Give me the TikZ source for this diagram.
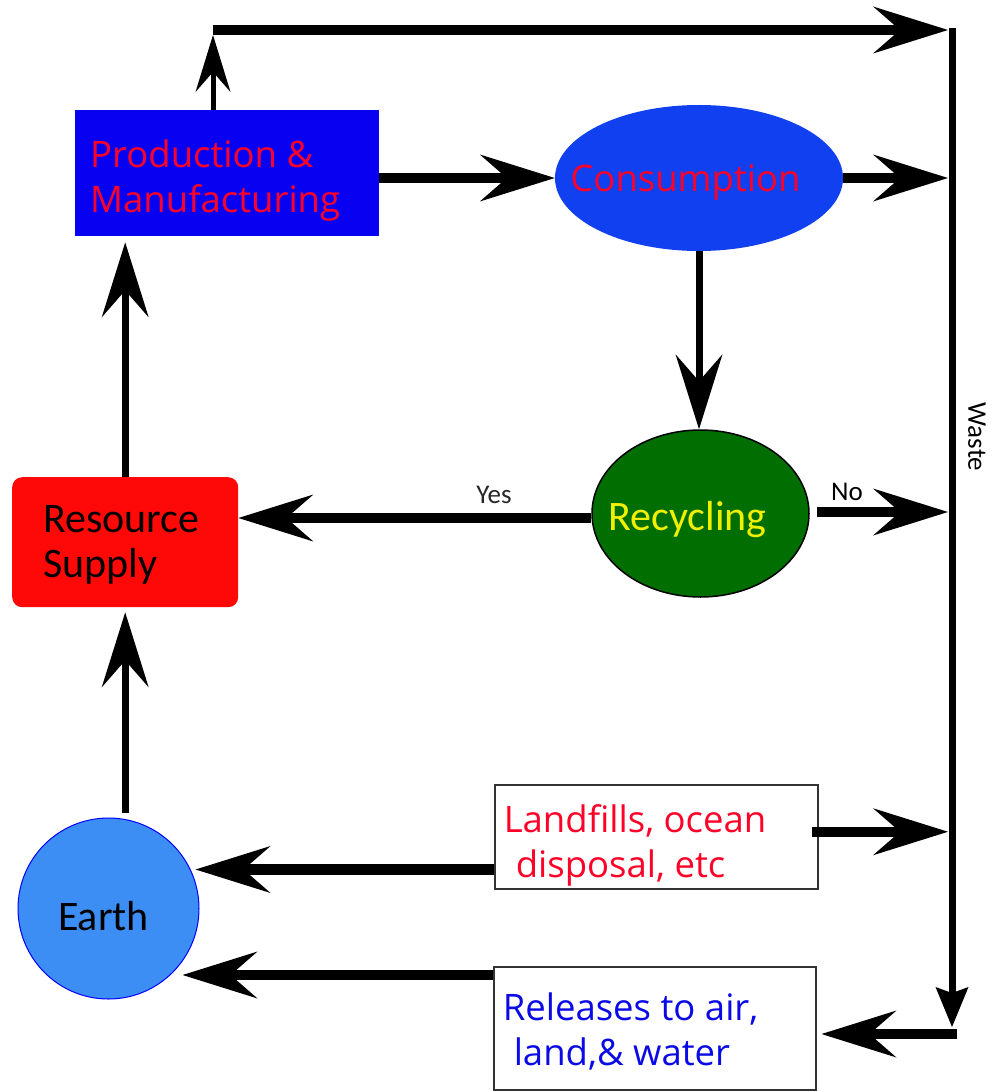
\documentclass[tikz,border=0pt]{standalone}
\usepackage{fontspec}
\usetikzlibrary{arrows.meta,shapes.geometric,calc}
\newfontfamily\lgfont{Open Sans}
\newfontfamily\cbfont{Carlito}
\definecolor{prodblue}{RGB}{8,0,240}
\definecolor{consblue}{RGB}{16,64,240}
\definecolor{recgreen}{RGB}{0,110,0}
\definecolor{recyellow}{RGB}{240,240,0}
\definecolor{earthblue}{RGB}{60,142,245}
\definecolor{resred}{RGB}{255,8,8}
\definecolor{txtred}{RGB}{255,0,40}
\definecolor{txtblue}{RGB}{10,10,230}
\newcommand\twoln[2]{\vtop{\hbox{#1}\hbox{#2}}}
\begin{document}
\begin{tikzpicture}[x=1pt,y=-1pt,
  bigfont/.style={font=\lgfont\fontsize{36.5}{45}\selectfont},
  cbbig/.style={font=\cbfont\fontsize{42}{45}\selectfont},
  cbsmall/.style={font=\cbfont\fontsize{27}{30}\selectfont},
  head/.style={-{Stealth[length=75pt,width=47pt,inset=27pt,line width=0pt]}},
  fat/.style={head, line width=10.5pt},
  mid/.style={head, line width=7pt},
  boxnode/.style={inner ysep=0pt, anchor=north west}
]
\useasboundingbox (0,0) rectangle (993,1091);
\fill[white] (0,0) rectangle (993,1091);

% nodes
\node[boxnode, fill=prodblue, inner xsep=15pt, text height=57pt, text depth=69pt, bigfont, text=txtred]
  (prod) at (75,110) {\makebox[274pt][l]{\twoln{Production \&}{Manufacturing}}};
\node[ellipse, fill=consblue, minimum width=288pt, minimum height=146pt, inner sep=0pt,
  text height=28pt, text depth=0pt, bigfont, text=txtred]
  (cons) at (699,178) {\makebox[0pt]{\hspace*{-27pt}Consumption}};
\node[ellipse, fill=recgreen, draw=black, line width=1.5pt, minimum width=217pt, minimum height=167pt,
  inner sep=0pt, text height=33pt, text depth=0pt, cbbig, text=recyellow]
  (rec) at (700.5,513.5) {\makebox[0pt]{\hspace*{-26pt}Recycling}};
\node[boxnode, fill=resred, rounded corners=10pt, inner xsep=31pt, text height=55pt, text depth=75pt, cbbig, text=black]
  (res) at (12,477) {\makebox[164pt][l]{\twoln{Resource}{Supply}}};
\node[circle, fill=earthblue, draw=blue, line width=1pt, minimum size=181pt, inner sep=0pt,
  text height=43pt, text depth=0pt, cbbig, text=black]
  (earth) at (108.5,908.5) {\makebox[0pt]{\hspace*{-10pt}Earth}};
\node[boxnode, draw=black!80, line width=1.5pt, fill=white, inner xsep=9pt, text height=48pt, text depth=56pt, bigfont, text=txtred]
  (land) at (494,784) {\makebox[305pt][l]{\twoln{Landfills, ocean}{\kern12pt disposal, etc}}};
\node[boxnode, draw=black!80, line width=1.5pt, fill=white, inner xsep=9pt, text height=54pt, text depth=69pt, bigfont, text=txtblue]
  (rel) at (493,966) {\makebox[304pt][l]{\twoln{Releases to air,}{\kern11pt land,\& water}}};

% helper coordinates
\coordinate (wx) at (948,0);
\coordinate (wtop) at (952,28);
\coordinate (wbot) at (952,1027);
\coordinate (wcorner) at (957,1034);
\coordinate (ttop) at (213,30);
\coordinate (recl) at ([yshift=-4.5pt]rec.west);
\coordinate (recr) at ([xshift=7pt,yshift=1.5pt]rec.east);
\coordinate (eup) at (earth.north -| res.north);
\coordinate (landl) at ([yshift=20pt]land.south west);
\coordinate (landr) at ([xshift=-7pt,yshift=5pt]land.east);
\coordinate (rell) at ([yshift=-9pt]rel.north west);
\coordinate (relr) at (wcorner -| rel.east);

% waste line
\draw[line width=7pt, -{Stealth[length=40pt,width=33pt,inset=6pt,line width=0pt]}] (wtop) -- (wbot);
\node[cbsmall, rotate=-90] (wastelbl) at (977,437) {Waste};
\draw[fat, shorten >=5pt] (wcorner) -- (relr);

% top route
\draw[line width=5pt, -{Stealth[length=57pt,width=35pt,inset=20pt,line width=0pt]}, shorten >=5pt]
  (ttop |- prod.north) -- (ttop);
\draw[fat] (ttop) -- (ttop -| wx);

% main flow
\draw[fat] (prod.east |- cons.west) -- (cons.west);
\draw[fat] (cons.east) -- (cons.east -| wx);
\draw[mid] (cons.south) -- (cons.south |- rec.north);
\draw[fat] (recl) -- (recl -| res.east);
\node[cbsmall, text=black!85] (yes) at (494,495) {Yes};
\draw[fat] (recr) -- (recr -| wx);
\node[cbsmall] (no) at (847,492) {No};
\draw[mid, shorten >=6pt] (res.north) -- (res.north |- prod.south);
\draw[mid, shorten <=5pt, shorten >=5pt] (eup) -- (res.south);
\draw[fat, shorten >=6pt] (landl) -- (landl -| earth.27);
\draw[fat] (landr) -- (landr -| wx);
\draw[fat, shorten >=12pt] (rell) -- (rell -| earth.-47);
\end{tikzpicture}
\end{document}
